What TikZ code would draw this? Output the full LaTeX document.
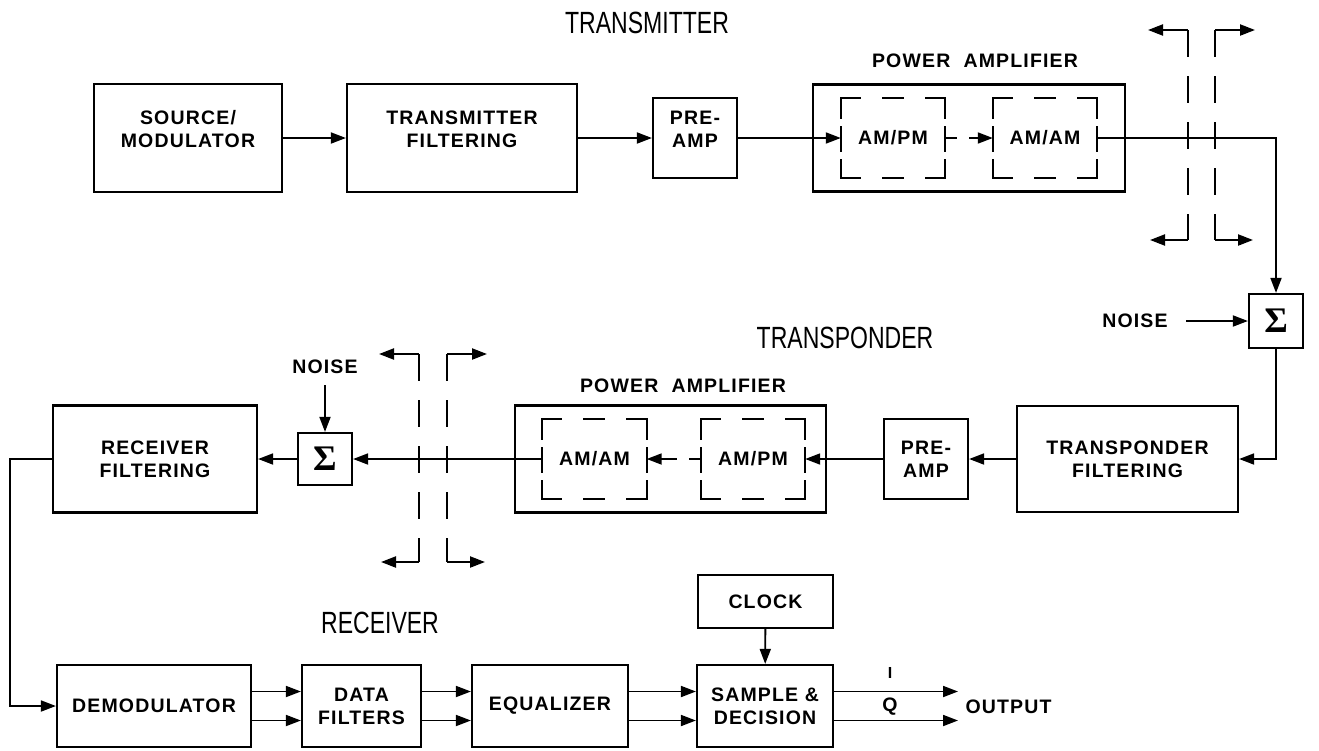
\documentclass[tikz,border=0pt]{standalone}
\usepackage{fontspec}
\setmainfont{Liberation Sans}
\newfontfamily\boxfont[LetterSpace=6]{Liberation Sans}
\newfontfamily\headfont[FakeStretch=0.75]{Liberation Sans}
\newfontfamily\sigmafont{Liberation Serif}
\usetikzlibrary{arrows.meta}
\newcommand{\boxtext}{\boxfont\bfseries\fontsize{19.5}{23}\selectfont}
\newcommand{\dashframe}[1]{%
  \draw[hdash] (#1.north west) -- (#1.north east);
  \draw[hdash] (#1.south west) -- (#1.south east);
  \draw[vdash] (#1.north west) -- (#1.south west);
  \draw[vdash] (#1.north east) -- (#1.south east);}
\tikzset{
  block/.style={draw, line width=2.2pt, inner sep=0pt, align=center, font=\boxtext},
  ampbox/.style={inner sep=0pt, minimum width=104pt, minimum height=80pt, font=\boxtext},
  sumbox/.style={draw, line width=2.2pt, inner sep=0pt, minimum width=54pt, minimum height=54pt,
    font=\sigmafont\bfseries\fontsize{36}{36}\selectfont},
  tag/.style={font=\boxtext},
  heading/.style={font=\headfont\fontsize{30.7}{31}\selectfont},
  arr/.style={line width=1.8pt, -{Triangle[length=15pt,width=11pt]}},
  ampconn/.style={arr, dash pattern=on 12pt off 12pt on 60pt},
  hdash/.style={line width=2.2pt, line cap=rect, dash pattern=on 19pt off 23pt on 20pt off 23pt on 40pt},
  vdash/.style={line width=2.2pt, line cap=rect, dash pattern=on 20pt off 9pt on 24pt off 9pt on 40pt},
  cutline/.style={line width=2.2pt, dash pattern=on 27pt off 19pt},
}
\begin{document}
\begin{tikzpicture}[x=1pt, y=-1pt]
  \useasboundingbox (0,0) rectangle (1319,750);
  % transmitter
  \node[heading] (htx) at (647,23) {TRANSMITTER};
  \node[block, minimum width=188pt, minimum height=108pt] (src) at (188,138) {SOURCE/\\MODULATOR\\[-5pt]};
  \node[block, minimum width=230pt, minimum height=108pt] (txf) at (462,138) {TRANSMITTER\\FILTERING\\[-5pt]};
  \node[block, minimum width=84pt, minimum height=80pt] (pre1) at (695,138) {PRE-\\AMP\\[-5pt]};
  \node[block, minimum width=312pt, minimum height=107pt] (pa1) at (969,138) {};
  \node[tag] (pal1) at (975,61) {POWER\ \ AMPLIFIER};
  \node[ampbox] (apm1) at (893,138) {AM/PM};
  \node[ampbox] (aam1) at (1045,138) {AM/AM};
  \dashframe{apm1} \dashframe{aam1}
  \draw[arr] (src) -- (txf);
  \draw[arr] (txf) -- (pre1);
  \draw[arr] (pre1.east) -- (apm1.west);
  \draw[ampconn] (apm1.east) -- (aam1.west);
  % transponder
  \node[heading] (htp) at (845,338) {TRANSPONDER};
  \node[sumbox] (sum1) at (1276,321) {Σ};
  \node[tag] (noise1) at (1135,321) {NOISE};
  \node[block, minimum width=221pt, minimum height=106pt] (txpf) at (1127.5,459) {TRANSPONDER\\FILTERING};
  \node[block, minimum width=84pt, minimum height=80pt] (pre2) at (926,459) {PRE-\\AMP};
  \node[block, minimum width=311pt, minimum height=107pt] (pa2) at (670.5,459) {};
  \node[tag] (pal2) at (683,386) {POWER\ \ AMPLIFIER};
  \node[ampbox] (apm2) at (753,459) {AM/PM};
  \node[ampbox] (aam2) at (594.5,459) {AM/AM};
  \dashframe{apm2} \dashframe{aam2}
  \draw[arr] (aam1.east) -| (sum1.north);
  \draw[arr, shorten <=15pt] (noise1.east) -- (sum1.west);
  \draw[arr] (sum1.south) |- (txpf.east);
  \draw[arr] (txpf) -- (pre2);
  \draw[arr] (pre2.west) -- (apm2.east);
  \draw[ampconn] (apm2.west) -- (aam2.east);
  % receiver
  \node[heading] (hrx) at (380,623) {RECEIVER};
  \node[sumbox, minimum height=52pt] (sum2) at (325,459) {Σ};
  \node[tag] (noise2) at (325,367) {NOISE};
  \node[block, minimum width=204pt, minimum height=107pt] (rxf) at (155,459) {RECEIVER\\FILTERING};
  \draw[arr] (aam2.west) -- (sum2.east);
  \draw[arr, shorten <=8pt] (noise2.south) -- (sum2.north);
  \draw[arr] (sum2) -- (rxf);
  \node[block, minimum width=194pt, minimum height=82pt] (dem) at (154,706) {DEMODULATOR};
  \node[block, minimum width=119pt, minimum height=82pt] (df) at (361.5,706) {DATA\\FILTERS};
  \node[block, minimum width=156pt, minimum height=82pt] (eq) at (550,706) {EQUALIZER};
  \node[block, minimum width=136pt, minimum height=82pt] (sd) at (765,706) {SAMPLE \&\\DECISION};
  \node[block, minimum width=135pt, minimum height=53pt] (clk) at (765.5,601.5) {CLOCK};
  \draw[arr] (rxf.west) -- ++(-42,0) |- (dem.west);
  \foreach \a/\b in {dem/df, df/eq, eq/sd}
    \foreach \s in {14.5,-14.5}
      \draw[arr] ([yshift=\s pt]\a.east) -- ([yshift=\s pt]\b.west);
  \draw[arr] (clk) -- (sd);
  \coordinate (outI) at (958,691.5);
  \coordinate (outQ) at (958,720.5);
  \draw[arr] ([yshift=14.5pt]sd.east) -- (outI);
  \draw[arr] ([yshift=-14.5pt]sd.east) -- (outQ);
  \node[tag, font=\boxfont\bfseries\fontsize{16}{16}\selectfont] (li) at (890,673) {I};
  \node[tag] (lq) at (890,707) {Q};
  \node[tag, anchor=west] (out) at (962,707) {OUTPUT};
  % cut planes
  \foreach \x/\yt/\yb/\d in {1188/30/240/-1, 1215/30/240/1, 419/354/562/-1, 447/354/562/1} {
    \draw[cutline] (\x,\yt) -- (\x,\yb);
    \draw[arr, line width=2.2pt] (\x,\yt) -- ++(\d*40,0);
    \draw[arr, line width=2.2pt] (\x,\yb) -- ++(\d*38,0);
  }
\end{tikzpicture}
\end{document}
